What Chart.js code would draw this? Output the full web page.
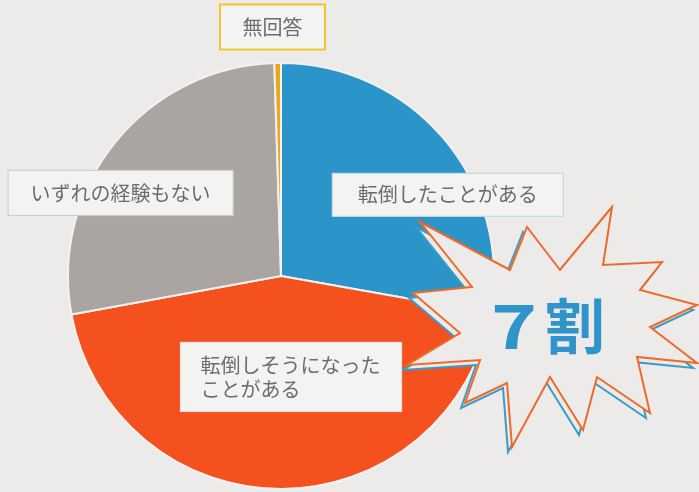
<!DOCTYPE html>
<html lang="ja">
<head>
<meta charset="utf-8">
<script src="https://cdn.jsdelivr.net/npm/chart.js@4"></script>
<style>
  html, body { margin: 0; padding: 0; background: #ecebe9; }
  #wrap { width: 699px; height: 492px; position: relative; }
</style>
</head>
<body>
<div id="wrap"><canvas id="pie-chart" width="699" height="492"></canvas></div>
<script>
/* Data (percent, clockwise from 12 o'clock) */
let categories = ['転倒したことがある', '転倒しそうになったことがある', 'いずれの経験もない', '無回答']
let values = [27.8, 44.3, 27.4, 0.5]
let sliceColors = ['#2b95c9', '#f4511f', '#aaa4a3', '#efa51e']

/* Label boxes: text lines, box centre as offset from pie centre (in radii), box size, border colour */
let labelLines = [['転倒したことがある'], ['転倒しそうになった', 'ことがある'], ['いずれの経験もない'], ['無回答']]
let labelOffsets = [[0.783, -0.381], [0.047, 0.474], [-0.753, -0.390], [-0.040, -1.169]]
let labelSizes = [[231, 43], [221, 69], [225, 45], [105, 45]]
let labelBorders = ['#c9d6dc', '#e6e2dc', '#d2cfcc', '#f2c62a']

let starText = ['7', '割']
let starPoints = [
    [420, 222], [510, 270], [527, 227], [560, 270], [612, 207], [603, 265],
    [662, 262], [640, 290], [697, 305], [650, 327], [697, 363], [637, 357],
    [650, 413], [597, 377], [583, 430], [550, 377], [512, 447], [507, 383],
    [465, 403], [480, 360], [407, 365], [460, 333], [413, 293], [472, 287]
]

let bg = '#ecebe9'
let textFont = '"Noto Sans CJK JP", "Noto Sans", sans-serif'

// draws the "7割" burst and the label boxes on top of the pie
let overlayPlugin = {
    id: 'overlay',
    afterDraw(chart) {
        let ctx = chart.ctx
        let arc = chart.getDatasetMeta(0).data[0]
        let cx = arc.x
        let cy = arc.y
        let r = arc.outerRadius

        ctx.save()

        // burst: blue shadow first, then orange outline
        function starPath(dx, dy) {
            ctx.beginPath()
            starPoints.forEach(function(p, k) {
                if (k == 0) ctx.moveTo(p[0] + dx, p[1] + dy)
                else ctx.lineTo(p[0] + dx, p[1] + dy)
            })
            ctx.closePath()
        }
        ctx.lineJoin = 'miter'
        starPath(-4, 5)
        ctx.fillStyle = bg
        ctx.fill()
        ctx.strokeStyle = '#3a9bc8'
        ctx.lineWidth = 2
        ctx.stroke()
        starPath(0, 0)
        ctx.fillStyle = bg
        ctx.fill()
        ctx.strokeStyle = '#ee6a2a'
        ctx.lineWidth = 2
        ctx.stroke()

        ctx.fillStyle = '#2f94ca'
        ctx.font = 'bold 60px ' + textFont
        ctx.textAlign = 'center'
        ctx.textBaseline = 'middle'
        // the 7 in the original is wider than Noto's
        ctx.save()
        ctx.translate(514, 326)
        ctx.scale(1.3, 1)
        ctx.fillText(starText[0], 0, 0)
        ctx.restore()
        ctx.fillText(starText[1], 575, 326)

        labelLines.forEach(function(lines, i) {
            let bx = cx + labelOffsets[i][0] * r
            let by = cy + labelOffsets[i][1] * r
            let w = labelSizes[i][0]
            let h = labelSizes[i][1]
            ctx.fillStyle = '#f3f3f1'
            ctx.fillRect(bx - w / 2, by - h / 2, w, h)
            ctx.strokeStyle = labelBorders[i]
            ctx.lineWidth = i == 3 ? 2 : 1.2
            ctx.strokeRect(bx - w / 2, by - h / 2, w, h)
            ctx.fillStyle = '#6c6c6c'
            ctx.font = '20px ' + textFont
            ctx.textBaseline = 'middle'
            let lineH = 24
            let top = by - (lines.length - 1) * lineH / 2
            lines.forEach(function(line, j) {
                if (lines.length > 1) {
                    ctx.textAlign = 'left'
                    ctx.fillText(line, bx - w / 2 + 20, top + j * lineH)
                } else {
                    ctx.textAlign = 'center'
                    ctx.fillText(line, bx, top + j * lineH)
                }
            })
        })
        ctx.restore()
    }
}

let ctx = document.querySelector('#pie-chart').getContext('2d')

let pieChart = new Chart(ctx, {
    type: 'pie',
    data: {
        labels: categories,
        datasets: [
            {
                data: values,
                backgroundColor: sliceColors,
                borderColor: '#f2f2f0',
                borderWidth: 2
            }
        ]
    },
    options: {
        responsive: false,
        animation: false,
        layout: {
            padding: { left: 67, right: 204, top: 62, bottom: 2 }
        },
        plugins: {
            legend: { display: false },
            tooltip: { enabled: false }
        }
    },
    plugins: [overlayPlugin]
})
</script>
</body>
</html>
